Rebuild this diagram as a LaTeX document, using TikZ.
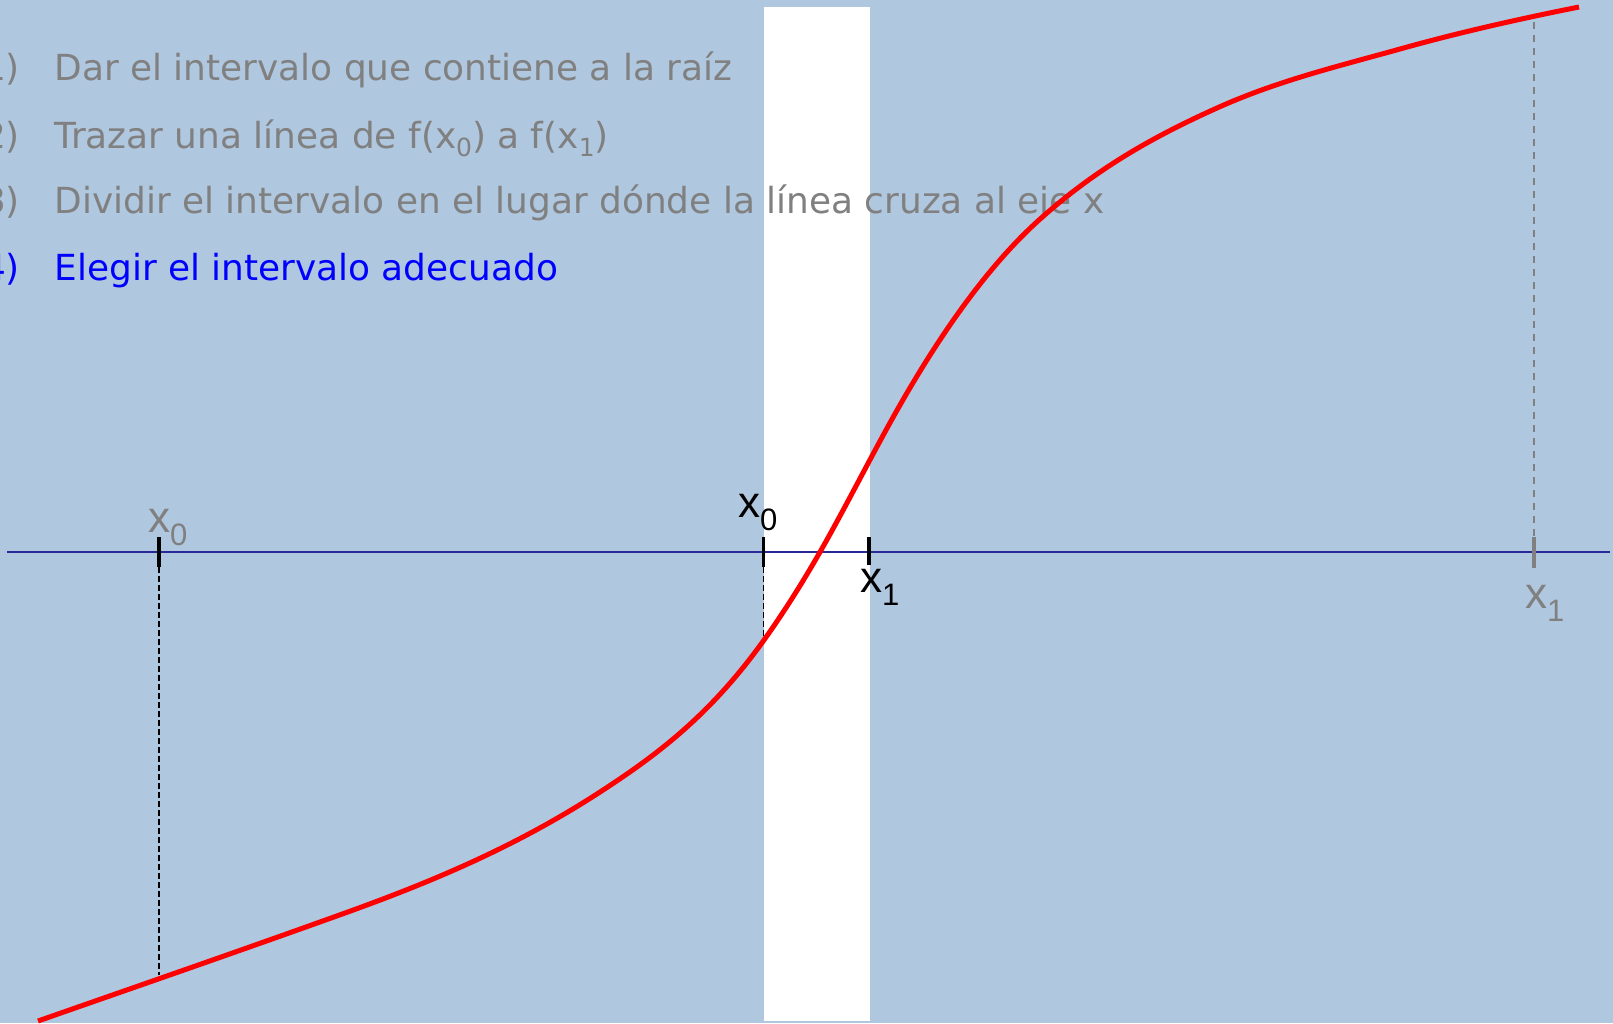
\documentclass[tikz,border=0pt]{standalone}
\usepackage{fontspec}
\setmainfont{DejaVu Sans}
\newfontfamily\labelfont{Liberation Sans}
\definecolor{bgblue}{RGB}{176,199,224}
\definecolor{txtgrey}{RGB}{128,128,128}
\definecolor{axisblue}{RGB}{40,40,150}
\definecolor{curvered}{RGB}{255,0,0}
\newcommand{\stepsub}[1]{\raisebox{-8pt}{\fontsize{25}{25}\selectfont #1}}
\newcommand{\labsub}[1]{\raisebox{-13pt}{\fontsize{31}{31}\selectfont #1}}
\begin{document}
\begin{tikzpicture}[x=1pt,y=-1pt,
  steptext/.style={anchor=base west, inner sep=0pt, outer sep=0pt, font=\fontsize{35.9}{40}\selectfont},
  stepnum/.style={anchor=base east, inner sep=0pt, outer sep=0pt, font=\fontsize{35.9}{40}\selectfont},
  xlabel/.style={anchor=base west, inner sep=0pt, outer sep=0pt, font=\labelfont\fontsize{44}{44}\selectfont},
  tickmark/.style={line width=3.3pt},
  guide/.style={line width=1.5pt, dash pattern=on 6pt off 3pt},
  oldguide/.style={line width=2pt, txtgrey, dash pattern=on 7pt off 6pt},
]
\useasboundingbox (0,0) rectangle (1613,1023);
\clip (0,0) rectangle (1613,1023);
\fill[bgblue] (0,0) rectangle (1613,1023);
% white band (new interval)
\fill[white] (764,7) rectangle (870,1021);

% steps
\node[stepnum, text=txtgrey] (n1) at (20,80.7) {1)};
\node[steptext, text=txtgrey] (s1) at (54.5,80.7) {Dar el intervalo que contiene a la raíz};
\node[stepnum, text=txtgrey] (n2) at (20,148) {2)};
\node[steptext, text=txtgrey] (s2) at (54.5,148) {Trazar una línea de f(x\stepsub{0}) a f(x\stepsub{1})};
\node[stepnum, text=txtgrey] (n3) at (20,213) {3)};
\node[steptext, text=txtgrey] (s3) at (54.5,213) {Dividir el intervalo en el lugar dónde la línea cruza al eje x};
\node[stepnum, text=blue] (n4) at (20,280) {4)};
\node[steptext, text=blue] (s4) at (54.5,280) {Elegir el intervalo adecuado};

% axis
\coordinate (axL) at (7,552);
\coordinate (axR) at (1610,552);
\draw[axisblue, line width=2pt] (axL) -- (axR);

% tick positions
\coordinate (oldx0top) at (159,537);  \coordinate (oldx0bot) at (159,567);
\coordinate (newx0top) at (763.5,537); \coordinate (newx0bot) at (763.5,567);
\coordinate (newx1top) at (869,537);  \coordinate (newx1bot) at (869,565);
\coordinate (oldx1top) at (1534,537); \coordinate (oldx1bot) at (1534,568);
\coordinate (fold0) at (159,975);
\coordinate (fnew0) at (763.5,640);
\coordinate (fold1) at (1534,22);

% guides
\draw[guide] (oldx0bot) -- (fold0);
\draw[guide] (newx0bot) -- (fnew0);
\draw[oldguide] (fold1) -- (oldx1top);

% ticks
\draw[tickmark, black] (oldx0top) -- (oldx0bot);
\draw[tickmark, black] (newx0top) -- (newx0bot);
\draw[tickmark, black] (newx1top) -- (newx1bot);
\draw[tickmark, txtgrey] (oldx1top) -- (oldx1bot);

% curve (Hermite-smooth cubic segments)
\coordinate (k0) at (38,1021);
\coordinate (k1) at (345,913);
\coordinate (k2) at (600,792);
\coordinate (k3) at (764,640);
\coordinate (k4) at (820,552);
\coordinate (k5) at (900,405);
\coordinate (k6) at (1039,220);
\coordinate (k7) at (1217,108);
\coordinate (k8) at (1400,49);
\coordinate (k9) at (1579,7);
\draw[curvered, line width=5pt]
  (k0) .. controls (140.33,985.18) and (242.67,949.84) .. (k1)
       .. controls (430,882.4) and (515,847.25) .. (k2)
       .. controls (654.67,756.47) and (709.33,716.53) .. (k3)
       .. controls (782.67,613.87) and (801.33,584.67) .. (k4)
       .. controls (846.67,505.33) and (873.33,451.67) .. (k5)
       .. controls (946.33,323.92) and (992.67,261.7) .. (k6)
       .. controls (1098.33,166.6) and (1157.67,134.7) .. (k7)
       .. controls (1278,80.55) and (1339,66.08) .. (k8)
       .. controls (1459.67,32.29) and (1519.33,18.93) .. (k9);

% labels
\node[xlabel, text=txtgrey] (lx0old) at (148,532) {x\labsub{0}};
\node[xlabel, text=black] (lx0new) at (738,517) {x\labsub{0}};
\node[xlabel, text=black] (lx1new) at (860,592) {x\labsub{1}};
\node[xlabel, text=txtgrey] (lx1old) at (1525,608) {x\labsub{1}};
\end{tikzpicture}
\end{document}
